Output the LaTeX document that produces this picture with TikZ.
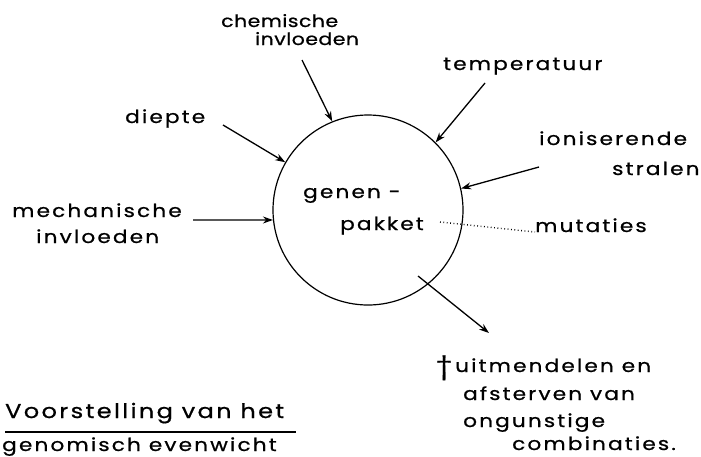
\documentclass[tikz,border=0pt]{standalone}
\usepackage{fontspec}
\setmainfont{Poppins}[FakeStretch=1.2, LetterSpace=12, FakeBold=0.8]
\usetikzlibrary{arrows.meta}
\tikzset{
  arr/.style={line width=1.3pt, -{Stealth[length=10pt,width=7pt]}},
  lbl/.style={font=\fontsize{18}{22}\selectfont, inner sep=0pt, anchor=base west},
  klein/.style={lbl, font=\fontsize{17}{20}\selectfont\addfontfeature{LetterSpace=3}},
  kern/.style={circle, draw, line width=1.2pt, minimum size=190pt, inner sep=0pt}
}

\begin{document}
\begin{tikzpicture}[x=1pt, y=-1pt]
\useasboundingbox (0,0) rectangle (701,456);

\node[kern] (gp) at (368,210) {};
\node[lbl] (genen) at (303,198) {genen -};
\node[lbl] (pakket) at (340,230) {pakket};

% invloeden van buiten
\node[klein] (chem1) at (221,27) {chemische};
\node[klein] (chem2) at (255,45) {invloeden};
\node[lbl] (diep) at (125,123) {diepte};
\node[lbl] (mech1) at (12,217) {mechanische};
\node[lbl] (mech2) at (36,243) {invloeden};
\node[lbl] (temp) at (443,70) {temperatuur};
\node[lbl] (ion1) at (539,145) {ioniserende};
\node[lbl] (ion2) at (612,175) {stralen};

\coordinate (chemT) at (302,60);
\coordinate (diepT) at (223,125);
\coordinate (mechT) at (193,220);
\coordinate (tempT) at (485,83);
\coordinate (ionT) at (539,167);

\draw[arr] (chemT) -- (gp.112);
\draw[arr] (diepT) -- (gp.150);
\draw[arr] (mechT) -- (gp.186);
\draw[arr] (tempT) -- (gp.45);
\draw[arr] (ionT) -- (gp.13);

% mutaties
\coordinate (mutS) at (440,222);
\node[lbl] (mut) at (535,232) {mutaties};
\draw[line width=1.4pt, dash pattern=on 0.8pt off 2.6pt] (mutS) -- (mut.base west);

% uitselectie
\coordinate (uitS) at (418,276);
\coordinate (uitE) at (489,333);
\draw[arr] (uitS) -- (uitE);
\node[lbl, font=\fontsize{24}{24}\selectfont] (kruis) at (436,374) {\textdagger};
\node[lbl] (uit1) at (455,372) {uitmendelen en};
\node[lbl] (uit2) at (463,400) {afsterven van};
\node[lbl] (uit3) at (463,427) {ongunstige};
\node[lbl] (uit4) at (512,450) {combinaties.};

% onderschrift
\node[lbl, font=\fontsize{20}{24}\selectfont] (titel) at (5,418) {Voorstelling van het};
\draw[line width=1.3pt] (titel.base west |- 0,432) -- (296,432);
\node[lbl] (titel2) at (2,451) {genomisch evenwicht};
\end{tikzpicture}
\end{document}
